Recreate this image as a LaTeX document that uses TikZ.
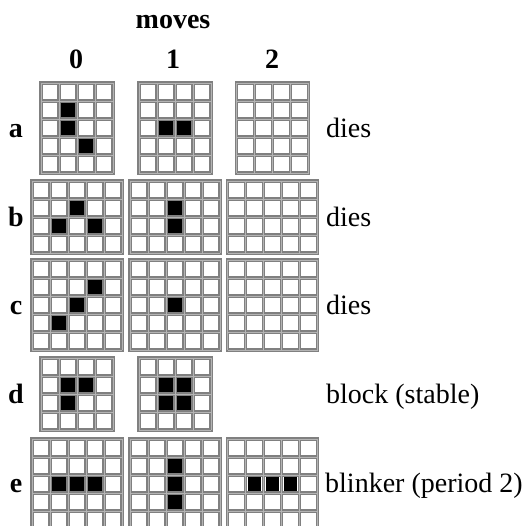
\documentclass[tikz,border=0pt]{standalone}
\usepackage{fontspec}
\setmainfont{Liberation Serif}
\usepackage{tikz}
\usepackage{xcolor}
\definecolor{cLine}{RGB}{128,128,128}
\definecolor{cLineHi}{RGB}{180,180,180}
\tikzset{
	gridline/.style ={draw=cLine, line width=3.4pt, line cap=rect},
	gridhi/.style   ={draw=cLineHi, line width=0.9pt},
	livecell/.style ={fill=black},
	collabel/.style ={font=\fontsize{28}{30}\selectfont\bfseries, inner sep=0pt, anchor=base},
	rowlabel/.style ={font=\fontsize{28}{30}\selectfont\bfseries, inner sep=0pt, anchor=base},
	fatelabel/.style={font=\fontsize{28}{30}\selectfont, inner sep=0pt, anchor=base west},
}
% one board: centre x, centre y, columns, rows, live cells (col/row from top left)
\newcommand{\lifegrid}[5]{%
	\begin{scope}[shift={(#1-#3*9,#2-#4*9)}]
		\foreach \i in {0,...,#3} \draw[gridline] (\i*18,0) -- (\i*18,#4*18);
		\foreach \j in {0,...,#4} \draw[gridline] (0,\j*18) -- (#3*18,\j*18);
		\foreach \i in {0,...,#3} \draw[gridhi] (\i*18,0) -- (\i*18,#4*18);
		\foreach \j in {0,...,#4} \draw[gridhi] (0,\j*18) -- (#3*18,\j*18);
		\foreach \c/\r in {#5} \fill[livecell] (\c*18+2.2,\r*18+2.2) rectangle ++(13.6,13.6);
	\end{scope}}

\begin{document}
\begin{tikzpicture}[x=1pt, y=-1pt]
	\useasboundingbox (0,0) rectangle (526,525);
	\clip (0,0) rectangle (526,525);
	\fill[white] (0,0) rectangle (526,525);

	% headings
	\node[collabel] (moves) at (173,28) {moves};
	\node[collabel] (h0) at (76,68) {0};
	\node[collabel] (h1) at (173,68) {1};
	\node[collabel] (h2) at (272,68) {2};

	% row a
	\node[rowlabel] (la) at (16,137) {a};
	\lifegrid{77}{128}{4}{5}{1/1,1/2,2/3}
	\lifegrid{175}{128}{4}{5}{1/2,2/2}
	\lifegrid{272.5}{128}{4}{5}{}
	\node[fatelabel] (fa) at (326,137) {dies};

	% row b
	\node[rowlabel] (lb) at (16,226) {b};
	\lifegrid{77}{217}{5}{4}{2/1,1/2,3/2}
	\lifegrid{175}{217}{5}{4}{2/1,2/2}
	\lifegrid{272.5}{217}{5}{4}{}
	\node[fatelabel] (fb) at (326,226) {dies};

	% row c
	\node[rowlabel] (lc) at (16,314) {c};
	\lifegrid{77}{305}{5}{5}{3/1,2/2,1/3}
	\lifegrid{175}{305}{5}{5}{2/2}
	\lifegrid{272.5}{305}{5}{5}{}
	\node[fatelabel] (fc) at (326,314) {dies};

	% row d
	\node[rowlabel] (ld) at (16,403) {d};
	\lifegrid{77}{394}{4}{4}{1/1,2/1,1/2}
	\lifegrid{175}{394}{4}{4}{1/1,2/1,1/2,2/2}
	\node[fatelabel] (fd) at (326,403) {block (stable)};

	% row e
	\node[rowlabel] (le) at (16,492) {e};
	\lifegrid{77}{484}{5}{5}{1/2,2/2,3/2}
	\lifegrid{175}{484}{5}{5}{2/1,2/2,2/3}
	\lifegrid{272.5}{484}{5}{5}{1/2,2/2,3/2}
	\node[fatelabel] (fe) at (325,492) {blinker (period 2)};
\end{tikzpicture}
\end{document}
